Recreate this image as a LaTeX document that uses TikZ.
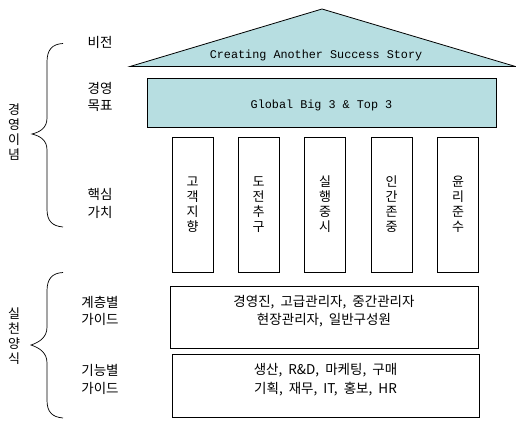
\documentclass[tikz,border=0pt]{standalone}
\usepackage{fontspec}
\setmainfont{Noto Sans CJK KR}
\newfontfamily\latmono{Liberation Mono}
\definecolor{teal1}{RGB}{183,222,225}
\newcommand{\cm}{,\hspace{0.45em}}
\begin{document}
\begin{tikzpicture}[x=1pt,y=-1pt,
  every node/.style={inner sep=0pt, font=\fontsize{12}{15}\selectfont},
  shp/.style={draw=black, line width=0.8pt},
  lbl/.style={align=center, font=\fontsize{13.5}{17.5}\selectfont},
  pil/.style={align=center, font=\fontsize{13}{15}\selectfont},
  brc/.style={draw=black, line width=0.7pt}]
\useasboundingbox (0,0) rectangle (516,420);
% roof
\draw[shp, fill=teal1] (130,66.5) -- (322,9) -- (515.5,66.5) -- cycle;
\node[font=\latmono\fontsize{11.8}{14}\selectfont] (vision) at (316,55) {Creating Another Success Story};
% band
\node[shp, fill=teal1, minimum width=349pt, minimum height=49pt] (goal) at (321.5,102.5) {};
\node[font=\latmono\fontsize{11.8}{14}\selectfont] (goaltxt) at (321.5,105) {Global Big 3 \& Top 3};
% pillars
\foreach \n/\x/\t in {p1/192.5/고\\객\\지\\향, p2/258.5/도\\전\\추\\구, p3/325/실\\행\\중\\시, p4/391.5/인\\간\\존\\중, p5/458/윤\\리\\준\\수}{
  \node[shp, minimum width=41pt, minimum height=135pt] (\n) at (\x,204.5) {};
  \node[pil] at (\x,204.5) {\t};
}
% boxes
\node[shp, minimum width=308pt, minimum height=62pt] (b1) at (324,317) {};
\node[align=center, font=\fontsize{13.5}{18}\selectfont] (b1t) at (324,311) {경영진\cm 고급관리자\cm 중간관리자\\현장관리자\cm 일반구성원};
\node[shp, minimum width=307pt, minimum height=63pt] (b2) at (325.5,385.5) {};
\node[align=center, font=\fontsize{13.5}{18.5}\selectfont] (b2t) at (325.5,379.5) {생산\cm R\&D\cm 마케팅\cm 구매\\기획\cm 재무\cm IT\cm 홍보\cm HR};
% left labels
\node[lbl] (l1) at (100,42) {비전};
\node[lbl] (l2) at (100,97) {경영\\목표};
\node[lbl] (l3) at (100,203.5) {핵심\\가치};
\node[lbl] (l4) at (100,311) {계층별\\가이드};
\node[lbl] (l5) at (100,379.5) {기능별\\가이드};
% braces
\draw[brc] (63,43.5) .. controls (52,44) and (47,50) .. (47,62)
  -- (47,118) .. controls (47,128) and (40,132) .. (32,134)
  .. controls (40,136) and (47,140) .. (47,150)
  -- (47,209) .. controls (47,221) and (52,226) .. (63,227);
\draw[brc] (63,272.5) .. controls (52,273) and (47,279) .. (47,291)
  -- (47,327) .. controls (47,337) and (40,342) .. (31,345)
  .. controls (40,348) and (47,353) .. (47,363)
  -- (47,400) .. controls (47,412) and (52,417) .. (63,418);
\node[pil] (g1) at (14,132) {경\\영\\이\\념};
\node[pil] (g2) at (14,336) {실\\천\\양\\식};
\end{tikzpicture}
\end{document}
